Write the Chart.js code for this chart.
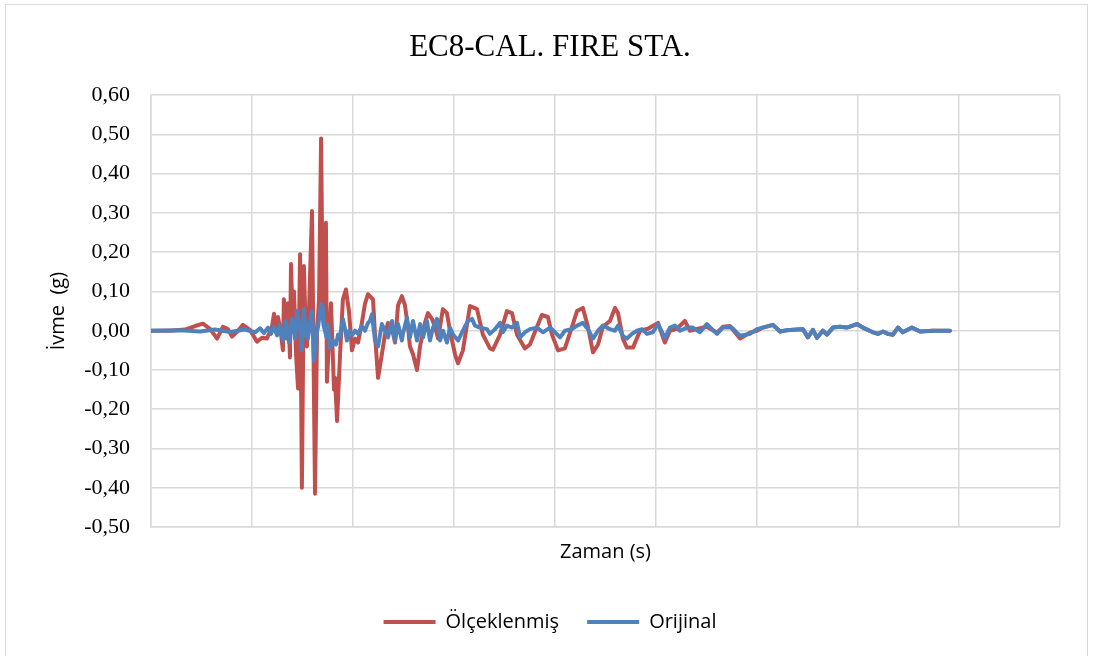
<!DOCTYPE html>
<html>
<head>
<meta charset="utf-8">
<script src="https://cdn.jsdelivr.net/npm/chart.js@4"></script>
<style>
  html, body { margin: 0; padding: 0; background: #fff; }
  #wrap { position: relative; width: 1094px; height: 656px; }
  #frame { position: absolute; left: 5px; top: 4px; width: 1083px; height: 660px; border: 1px solid #d9d9d9; box-sizing: border-box; pointer-events: none; }
  canvas { position: absolute; left: 0; top: 0; }
</style>
</head>
<body>
<div id="wrap">
  <canvas id="grafik" width="1094" height="656"></canvas>
  <div id="frame"></div>
</div>
<script>
// Ölçeklenmiş kayıt (s, g)
const scaledTime = [
  0.00, 0.94, 1.68, 2.18, 2.57, 2.92, 3.27, 3.56, 3.81, 4.01, 4.31, 4.55, 4.90, 5.25, 5.49, 5.74,
  5.99, 6.09, 6.24, 6.29, 6.44, 6.53, 6.58, 6.73, 6.78, 6.88, 6.93, 7.03, 7.08, 7.18, 7.28, 7.38,
  7.47, 7.57, 7.67, 7.72, 7.82, 7.97, 8.12, 8.22, 8.32, 8.42, 8.51, 8.56, 8.66, 8.71, 8.91, 9.06,
  9.11, 9.21, 9.36, 9.50, 9.65, 9.80, 9.95, 10.10, 10.25, 10.44, 10.59, 10.74, 10.99, 11.09, 11.24, 11.43,
  11.58, 11.73, 11.93, 12.08, 12.23, 12.42, 12.57, 12.72, 12.82, 12.97, 13.17, 13.32, 13.56, 13.71, 13.91, 14.06,
  14.21, 14.45, 14.65, 14.80, 15.05, 15.20, 15.44, 15.79, 16.14, 16.43, 16.78, 16.93, 17.28, 17.62, 17.87, 18.12,
  18.51, 18.76, 19.11, 19.35, 19.65, 19.85, 20.15, 20.49, 20.84, 21.09, 21.38, 21.63, 21.88, 22.13, 22.37, 22.72,
  22.97, 23.12, 23.36, 23.56, 23.86, 24.21, 24.60, 25.10, 25.44, 25.69, 26.04, 26.43, 26.68, 27.08, 27.52, 28.02,
  28.31, 28.66, 29.16, 29.65, 30.00, 30.29, 30.79, 31.14, 31.48, 31.98, 32.27, 32.52, 32.77, 32.97, 33.26, 33.46,
  33.76, 34.11, 34.45, 34.95, 35.24, 35.74, 35.99, 36.24, 36.48, 36.73, 36.98, 37.22, 37.67, 38.07, 38.71, 39.55
];
const scaledAcc = [
  0.000, 0.000, 0.003, 0.012, 0.018, 0.005, -0.020, 0.010, 0.004, -0.015, 0.000, 0.015, 0.002, -0.028, -0.018, -0.020,
  0.010, 0.043, 0.000, 0.035, -0.010, -0.050, 0.080, -0.020, 0.070, -0.068, 0.170, 0.000, 0.100, -0.060, -0.147, 0.195,
  -0.400, 0.165, -0.020, -0.040, 0.050, 0.305, -0.415, 0.000, 0.080, 0.490, 0.030, 0.010, 0.275, -0.130, 0.070, -0.150,
  -0.120, -0.230, -0.060, 0.080, 0.105, 0.050, -0.050, -0.020, -0.030, 0.020, 0.068, 0.093, 0.080, -0.010, -0.120, -0.060,
  -0.010, 0.020, 0.005, -0.030, 0.065, 0.088, 0.065, 0.010, -0.040, -0.060, -0.100, -0.040, 0.020, 0.045, 0.030, 0.010,
  -0.020, 0.055, 0.045, 0.000, -0.060, -0.083, -0.050, 0.063, 0.055, -0.010, -0.045, -0.048, -0.010, 0.050, 0.045, -0.010,
  -0.045, -0.035, 0.010, 0.040, 0.035, -0.010, -0.050, -0.045, 0.010, 0.050, 0.058, 0.010, -0.055, -0.035, 0.010, 0.025,
  0.058, 0.045, -0.020, -0.043, -0.043, 0.000, 0.005, 0.020, -0.030, 0.000, 0.005, 0.025, 0.000, 0.005, 0.010, -0.005,
  0.010, 0.012, -0.020, -0.005, 0.000, 0.008, 0.015, -0.002, 0.001, 0.003, 0.004, -0.017, 0.002, -0.018, 0.000, -0.010,
  0.008, 0.010, 0.008, 0.017, 0.008, -0.004, -0.008, -0.002, -0.008, -0.010, 0.008, -0.004, 0.008, -0.002, 0.000, 0.000
];

// Orijinal kayıt (s, g)
const originalTime = [
  0.00, 1.44, 2.43, 3.17, 3.91, 4.65, 5.15, 5.40, 5.59, 5.79, 5.94, 6.09, 6.24, 6.39, 6.53, 6.68,
  6.83, 6.98, 7.13, 7.23, 7.38, 7.47, 7.57, 7.67, 7.72, 7.77, 7.87, 7.97, 8.07, 8.22, 8.27, 8.42,
  8.51, 8.56, 8.71, 8.76, 8.86, 9.01, 9.16, 9.26, 9.36, 9.50, 9.60, 9.70, 9.80, 9.95, 10.10, 10.25,
  10.44, 10.59, 10.74, 10.84, 10.94, 11.09, 11.24, 11.43, 11.58, 11.73, 11.93, 12.08, 12.23, 12.42, 12.47, 12.67,
  12.82, 12.97, 13.17, 13.32, 13.47, 13.66, 13.81, 13.96, 14.16, 14.31, 14.45, 14.65, 14.80, 14.95, 15.20, 15.44,
  15.69, 15.89, 16.04, 16.29, 16.63, 16.78, 17.03, 17.28, 17.42, 17.62, 17.87, 18.12, 18.27, 18.51, 18.76, 19.11,
  19.40, 19.75, 20.00, 20.25, 20.49, 20.84, 21.09, 21.38, 21.63, 21.88, 22.13, 22.37, 22.72, 22.97, 23.12, 23.36,
  23.56, 23.81, 24.06, 24.31, 24.55, 24.85, 25.10, 25.44, 25.69, 25.94, 26.19, 26.53, 26.83, 27.18, 27.52, 27.77,
  28.02, 28.31, 28.76, 29.16, 29.65, 30.00, 30.29, 30.79, 31.14, 31.48, 31.98, 32.27, 32.52, 32.77, 32.97, 33.26,
  33.46, 33.76, 34.11, 34.45, 34.95, 35.24, 35.74, 35.99, 36.24, 36.48, 36.73, 36.98, 37.22, 37.67, 38.07, 38.71, 39.55
];
const originalAcc = [
  0.000, 0.001, -0.002, 0.003, -0.003, 0.003, -0.004, 0.006, -0.006, 0.008, -0.008, 0.010, -0.012, 0.015, -0.025, 0.025,
  -0.030, 0.030, -0.020, 0.050, 0.005, -0.050, 0.055, -0.010, 0.020, -0.020, 0.020, 0.050, -0.076, 0.000, 0.010, 0.068,
  0.060, 0.010, -0.020, 0.015, -0.045, -0.025, -0.035, -0.010, -0.015, 0.030, 0.005, -0.025, 0.000, -0.012, 0.000, -0.008,
  0.012, 0.000, 0.020, 0.025, 0.042, -0.025, -0.040, 0.017, 0.000, -0.017, 0.025, -0.025, 0.017, -0.025, -0.008, 0.033,
  -0.017, 0.025, -0.025, 0.017, -0.017, 0.025, -0.025, 0.008, 0.030, -0.025, 0.000, -0.030, 0.008, -0.010, -0.025, 0.000,
  0.025, 0.030, 0.013, 0.008, 0.004, -0.008, 0.004, 0.020, -0.004, 0.013, 0.008, 0.020, -0.017, -0.004, 0.004, 0.008,
  -0.004, 0.008, -0.004, -0.017, 0.000, 0.004, 0.013, 0.020, 0.004, -0.020, 0.000, 0.013, 0.004, 0.000, 0.013, -0.013,
  -0.020, -0.008, 0.000, 0.004, -0.008, -0.004, 0.017, -0.018, 0.008, 0.013, 0.000, 0.008, 0.008, -0.004, 0.017, 0.004,
  -0.008, 0.008, 0.008, -0.013, -0.008, 0.004, 0.008, 0.015, -0.002, 0.001, 0.003, 0.004, -0.017, 0.002, -0.018, 0.000,
  -0.010, 0.008, 0.010, 0.008, 0.017, 0.008, -0.004, -0.008, -0.002, -0.008, -0.010, 0.008, -0.004, 0.008, -0.002, 0.000, 0.000
];

// eksen sınırları
const timeMax = 45;
const timeStep = 5;
const accMin = -0.5;
const accMax = 0.6;
const accStep = 0.1;

const toPoints = (t, a) => t.map((x, i) => ({ x: x, y: a[i] }));

const sansFont = "'Open Sans', 'Liberation Sans', sans-serif";
const serifFont = "'Liberation Serif', 'DejaVu Serif', serif";
const gridColor = '#d9d9d9';

const ctx = document.getElementById('grafik').getContext('2d');

new Chart(ctx, {
    type: 'line',
    data: {
        datasets: [
            {
                label: 'Ölçeklenmiş',
                data: toPoints(scaledTime, scaledAcc),
                borderColor: '#c0504d',
                backgroundColor: '#c0504d',
                borderWidth: 4,
                pointRadius: 0,
                tension: 0,
                borderJoinStyle: 'round',
                borderCapStyle: 'round',
                order: 1
            },
            {
                label: 'Orijinal',
                data: toPoints(originalTime, originalAcc),
                borderColor: '#4f81bd',
                backgroundColor: '#4f81bd',
                borderWidth: 4,
                pointRadius: 0,
                tension: 0,
                borderJoinStyle: 'round',
                borderCapStyle: 'round',
                order: 0
            }
        ]
    },
    options: {
        responsive: false,
        animation: false,
        layout: {
            padding: { left: 40, right: 34, top: 0, bottom: 14 }
        },
        plugins: {
            title: {
                display: true,
                text: 'EC8-CAL. FIRE STA.',
                color: '#000',
                font: { family: serifFont, size: 31, weight: 'normal' },
                padding: { top: 29, bottom: 29 }
            },
            legend: {
                display: true,
                position: 'bottom',
                labels: {
                    color: '#000',
                    font: { family: sansFont, size: 20 },
                    usePointStyle: true,
                    pointStyle: 'line',
                    pointStyleWidth: 52,
                    padding: 28,
                    sort: (a, b) => a.datasetIndex - b.datasetIndex
                }
            },
            tooltip: { enabled: false }
        },
        scales: {
            x: {
                type: 'linear',
                min: 0,
                max: timeMax,
                ticks: { display: false, stepSize: timeStep },
                grid: { color: gridColor, lineWidth: 1.5, drawTicks: false },
                border: { color: gridColor, width: 1.5 },
                title: {
                    display: true,
                    text: 'Zaman (s)',
                    color: '#000',
                    font: { family: sansFont, size: 20 },
                    padding: { top: 0, bottom: 20 }
                },
                afterFit: s => { s.height = 57; }
            },
            y: {
                min: accMin,
                max: accMax,
                ticks: {
                    stepSize: accStep,
                    color: '#000',
                    padding: 21,
                    font: { family: serifFont, size: 22 },
                    callback: v => (Math.round(v * 100) / 100 + 0).toFixed(2).replace('.', ',')
                },
                grid: { color: gridColor, lineWidth: 1.5, drawTicks: false },
                border: { color: gridColor, width: 1.5 },
                title: {
                    display: true,
                    text: 'İvme  (g)',
                    color: '#000',
                    font: { family: sansFont, size: 20 },
                    padding: { top: 6, bottom: 0 }
                },
                afterFit: s => { s.width = 111; }
            }
        }
    }
});
</script>
</body>
</html>
